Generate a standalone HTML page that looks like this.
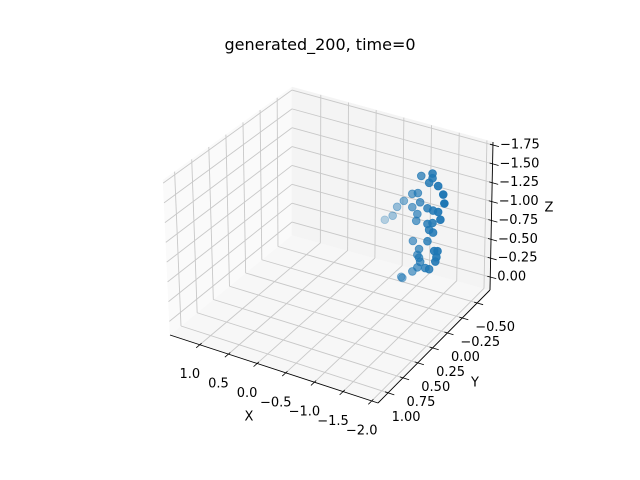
<!DOCTYPE html>
<html><head><meta charset="utf-8"><style>
html,body{margin:0;padding:0;background:#fff;}
svg{display:block;font-family:"DejaVu Sans","Liberation Sans",sans-serif;}
</style></head><body>
<svg id="chart" width="640" height="480" viewBox="0 0 640 480" xmlns="http://www.w3.org/2000/svg">
<rect width="640" height="480" fill="#ffffff"/>
<text x="320" y="50" text-anchor="middle" font-size="16" fill="#000">generated_200, time=0</text>
<g id="panes"></g><g id="grid"></g><g id="axes"></g><g id="points"></g>
</svg>
<script>
const xTicks = [1.0, 0.5, 0.0, -0.5, -1.0, -1.5, -2.0];
const xTickLabels = ["1.0","0.5","0.0","\u22120.5","\u22121.0","\u22121.5","\u22122.0"];
const yTicks = [-0.5, -0.25, 0.0, 0.25, 0.5, 0.75, 1.0];
const yTickLabels = ["\u22120.50","\u22120.25","0.00","0.25","0.50","0.75","1.00"];
const zTicks = [-1.75, -1.5, -1.25, -1.0, -0.75, -0.5, -0.25, 0.0];
const zTickLabels = ["\u22121.75","\u22121.50","\u22121.25","\u22121.00","\u22120.75","\u22120.50","\u22120.25","0.00"];
const xs = [-1.64,-1.84,-1.78,-1.84,-1.94,-1.48,-1.58,-2.03,-1.33,-1.62,-2.05,-1.21,-1.48,-1.75,-1.85,-1.94,-0.99,-1.13,-1.57,-1.55,-1.98,-1.75,-1.84,-1.78,-1.85,-1.75,-1.49,-1.60,-1.87,-1.93,-1.57,-1.60,-1.91,-1.89,-1.71,-1.57,-1.48,-1.78,-1.28,-1.30,-1.62];
const ys = [0,0,0,0,0,0,0,0,0,0,0,0,0,0,0,0,0,0,0,0,0,0,0,0,0,0,0,0,0,0,0,0,0,0,0,0,0,0,0,0,0];
const zs = [-1.73,-1.80,-1.67,-1.74,-1.66,-1.47,-1.50,-1.57,-1.35,-1.39,-1.46,-1.25,-1.30,-1.34,-1.33,-1.33,-1.04,-1.12,-1.23,-1.14,-1.24,-1.14,-1.17,-1.07,-1.05,-0.92,-0.87,-0.79,-0.82,-0.83,-0.71,-0.68,-0.75,-0.69,-0.57,-0.55,-0.48,-0.57,-0.37,-0.36,-0.63];

const XMAX=1.52, XMIN=-2.11, YMIN=-0.717, YMAX=1.17, ZB=0.172, ZT=-1.79;
const BOT={b:[292,235],r:[490,290],l:[170,335],f:[378,403]};
const TOP={b:[292,87],r:[493,142],l:[163,180],f:[374,238]};
function lerp(a,b,t){return [a[0]+(b[0]-a[0])*t,a[1]+(b[1]-a[1])*t];}
function proj(u,v,w){
  const bb=lerp(lerp(BOT.b,BOT.r,u),lerp(BOT.l,BOT.f,u),v);
  const tt=lerp(lerp(TOP.b,TOP.r,u),lerp(TOP.l,TOP.f,u),v);
  return lerp(bb,tt,w);
}
function uOf(x){return (x-XMAX)/(XMIN-XMAX);}
function vOf(y){return (y-YMIN)/(YMAX-YMIN);}
function wOf(z){return (z-ZB)/(ZT-ZB);}
const NS="http://www.w3.org/2000/svg";
function mk(tag,attrs,parent){const e=document.createElementNS(NS,tag);for(const k in attrs)e.setAttribute(k,attrs[k]);parent.appendChild(e);return e;}
function line(p,q,color,wd,parent,name){
  const e=mk('line',{x1:p[0],y1:p[1],x2:q[0],y2:q[1],stroke:color,'stroke-width':wd},parent);
  
  
  return e;
}
function poly(pts,fill,parent,name){
  const e=mk('polygon',{points:pts.map(p=>p.join(',')).join(' '),fill:fill,stroke:fill,'stroke-width':0.5},parent);
  
  
}
const panes=document.getElementById('panes'),grid=document.getElementById('grid'),axes=document.getElementById('axes'),ptsG=document.getElementById('points');
poly([proj(0,0,0),proj(1,0,0),proj(1,1,0),proj(0,1,0)],'#f7f7f7',panes,'floor-pane');
poly([proj(0,0,0),proj(0,1,0),proj(0,1,1),proj(0,0,1)],'#fafafa',panes,'left-pane');
poly([proj(0,0,0),proj(1,0,0),proj(1,0,1),proj(0,0,1)],'#f4f4f4',panes,'right-pane');
const GC='#c8c8c8';
xTicks.forEach(x=>{const u=uOf(x);
  line(proj(u,0,0),proj(u,1,0),GC,0.9,grid,'floor-gridline-x');
  line(proj(u,0,0),proj(u,0,1),GC,0.9,grid,'wall-gridline-x');});
yTicks.forEach(y=>{const v=vOf(y);
  line(proj(0,v,0),proj(1,v,0),GC,0.9,grid,'floor-gridline-y');
  line(proj(0,v,0),proj(0,v,1),GC,0.9,grid,'wall-gridline-y');});
zTicks.forEach(z=>{const w=wOf(z);
  line(proj(0,0,w),proj(0,1,w),GC,0.9,grid,'left-wall-gridline-z');
  line(proj(0,0,w),proj(1,0,w),GC,0.9,grid,'right-wall-gridline-z');});
line(proj(0,1,0),proj(1,1,0),'#000',0.9,axes,'x-axis-line');
line(proj(1,0,0),proj(1,1,0),'#000',0.9,axes,'y-axis-line');
line(proj(1,0,0),proj(1,0,1),'#000',0.9,axes,'z-axis-line');
function txt(p,s,anchor,name,size){
  const e=mk('text',{x:p[0],y:p[1],'text-anchor':anchor,'dominant-baseline':'central','font-size':size||13,fill:'#000'},axes);
  e.textContent=s;
  
  
}
xTicks.forEach((x,i)=>{const u=uOf(x);
  line(proj(u,0.985,0),proj(u,1.03,0),'#000',0.8,axes,'x-tick');
  const p=proj(u,1,0);txt([p[0]-10,p[1]+30],xTickLabels[i],'middle','x-tick-label');});
yTicks.forEach((y,i)=>{const v=vOf(y);
  line(proj(0.985,v,0),proj(1.03,v,0),'#000',0.8,axes,'y-tick');
  const p=proj(1,v,0);txt([p[0]+18,p[1]+24.5],yTickLabels[i],'middle','y-tick-label');});
zTicks.forEach((z,i)=>{const w=wOf(z);
  line(proj(0.985,0,w),proj(1.03,0,w),'#000',0.8,axes,'z-tick');
  const p=proj(1,0,w);txt([p[0]+7,p[1]],zTickLabels[i],'start','z-tick-label');});
txt([249,417],'X','middle','x-axis-title');
txt([475,383],'Y','middle','y-axis-title');
txt([549,208],'Z','middle','z-axis-title');
const recs=xs.map((x,i)=>{const u=uOf(x),v=vOf(ys[i]),w=wOf(zs[i]);return {p:proj(u,v,w),d:u+v};});
const ds=recs.map(r=>r.d),dmin=Math.min(...ds),dmax=Math.max(...ds);
recs.sort((a,b)=>a.d-b.d).forEach(r=>{
  const a=dmax>dmin?0.3+0.7*(r.d-dmin)/(dmax-dmin):1;
  const c=mk('circle',{cx:r.p[0],cy:r.p[1],r:3.9,fill:'#1f77b4','fill-opacity':a.toFixed(3),stroke:'#1f77b4','stroke-opacity':a.toFixed(3),'stroke-width':0.8},ptsG);
  
  
});
</script>
</body></html>
